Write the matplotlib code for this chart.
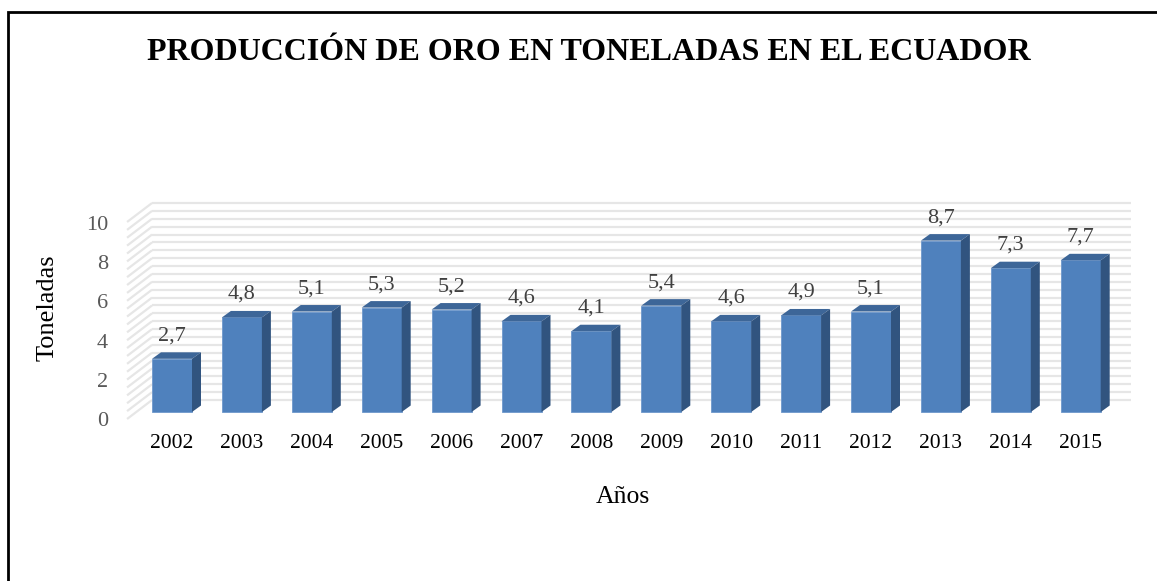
import matplotlib.pyplot as plt
from matplotlib.patches import Polygon, Rectangle
import numpy as np

# DATA
years = ['2002', '2003', '2004', '2005', '2006', '2007', '2008',
         '2009', '2010', '2011', '2012', '2013', '2014', '2015']
toneladas = [2.7, 4.8, 5.1, 5.3, 5.2, 4.6, 4.1, 5.4, 4.6, 4.9, 5.1, 8.7, 7.3, 7.7]
y_ticks = [0, 2, 4, 6, 8, 10]

plt.rcParams['font.family'] = 'serif'
plt.rcParams['font.serif'] = ['Liberation Serif', 'DejaVu Serif']

W, H = 1157, 581
fig = plt.figure(figsize=(W / 100, H / 100), dpi=100)

# pixel layout of the "bar plane"
x0_px, step_px = 172.0, 69.9      # centre of first bar, spacing
y0_px, unit_px = 412.0, 19.7      # zero line of bar fronts, px per tonne
ax_l, ax_r, ax_t, ax_b = 100, 1150, 185, 465
ax = fig.add_axes([ax_l / W, 1 - ax_b / H, (ax_r - ax_l) / W, (ax_b - ax_t) / H])
ax.set_xlim((ax_l - x0_px) / step_px, (ax_r - x0_px) / step_px)
ax.set_ylim((y0_px - ax_b) / unit_px, (y0_px - ax_t) / unit_px)
ax.axis('off')

def px_off(dx, dy):
    # pixel offset -> data offset (dy positive = up)
    return dx / step_px, dy / unit_px

bx, by = px_off(15, 12)     # back wall relative to bar fronts
fx, fy = px_off(-10, -7)    # front edge of side wall
dx, dy = px_off(9, 6.5)     # bar depth
bar_w = 40 / step_px

# GRID: back wall + left side wall
n = len(years)
grid_c = '#E6E6E6'
for v in np.arange(0, 10.001, 0.4):
    ax.plot([-0.5 + bx, n - 0.5 + bx], [v + by, v + by], color=grid_c, lw=1.6,
            zorder=1, solid_capstyle='butt')
    ax.plot([-0.5 + fx, -0.5 + bx], [v + fy, v + by], color=grid_c, lw=1.6,
            zorder=1, solid_capstyle='butt')

# BARS
xs = np.arange(n)
front_c, top_c, side_c = '#4F81BD', '#3D6698', '#31547F'
ax.bar(xs, toneladas, width=bar_w, color=front_c, edgecolor='#6F98CC',
       linewidth=0.6, zorder=3)
for x, v in zip(xs, toneladas):
    l, r = x - bar_w / 2, x + bar_w / 2
    ax.add_patch(Polygon([(l, v), (r, v), (r + dx, v + dy), (l + dx, v + dy)],
                         closed=True, facecolor=top_c, edgecolor='none', zorder=3))
    ax.add_patch(Polygon([(r, 0), (r + dx, dy), (r + dx, v + dy), (r, v)],
                         closed=True, facecolor=side_c, edgecolor='none', zorder=3))
    ax.annotate(f'{v:.1f}'.replace('.', ','), (x, v + dy), xytext=(0, 5),
                textcoords='offset points', ha='center', va='bottom',
                fontsize=16, color='#404040', zorder=4)

# AXIS LABELS
tick_x = (108 - x0_px) / step_px
for t in y_ticks:
    ax.text(tick_x, t + fy - 3 / unit_px, str(t), ha='right', va='center',
            fontsize=16, color='#595959')
for x, lab in zip(xs, years):
    ax.text(x, (y0_px - 443) / unit_px, lab, ha='center', va='center',
            fontsize=15.5, color='#000000')

fig.text(48 / W, 1 - 308 / H, 'Toneladas', rotation=90, ha='center',
         va='center', fontsize=19)
fig.text(623 / W, 1 - 497 / H, 'Años', ha='center', va='center', fontsize=18.5)
fig.text(589 / W, 1 - 52 / H, 'PRODUCCIÓN DE ORO EN TONELADAS EN EL ECUADOR',
         ha='center', va='center', fontsize=23, fontweight='bold')

# outer frame (only top and left edges visible)
fig.add_artist(Rectangle((7.5 / W, -0.1), 1.2, 1 - 12.5 / H + 0.1,
                         transform=fig.transFigure, fill=False,
                         edgecolor='black', linewidth=2, clip_on=False))

fig.savefig('out.png', dpi=100)
